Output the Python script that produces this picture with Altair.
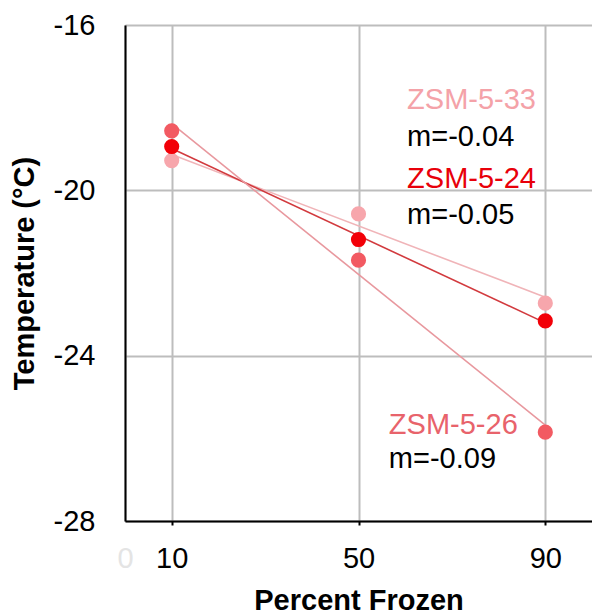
import altair as alt
import pandas as pd

# ---- data ----
series = ["ZSM-5-33", "ZSM-5-24", "ZSM-5-26"]
percent_frozen = [10, 50, 90]
temp_33 = [-19.28, -20.57, -22.73]
temp_24 = [-18.94, -21.19, -23.16]
temp_26 = [-18.56, -21.69, -25.85]

point_colors = ["#F7A6AC", "#F20008", "#F25A62"]
line_colors = ["#F0B4B8", "#D23A3E", "#E8989E"]

label_text = ["ZSM-5-33", "m=-0.04", "ZSM-5-24", "m=-0.05", "ZSM-5-26", "m=-0.09"]
label_x = [60.4, 60.4, 60.4, 60.4, 56.5, 56.5]
label_y = [-18.03, -18.93, -19.94, -20.81, -25.90, -26.72]
label_color = ["#F4A2A8", "#000000", "#E8000A", "#000000", "#E8636B", "#000000"]

x_ticks = [0, 10, 50, 90]
y_ticks = [-28, -24, -20, -16]

rows = []
for s, vals in zip(series, [temp_33, temp_24, temp_26]):
    for x, y in zip(percent_frozen, vals):
        rows.append({"series": s, "x": x, "y": y})
df = pd.DataFrame(rows)
labels = pd.DataFrame({"text": label_text, "x": label_x, "y": label_y, "c": label_color})

FONT = "Liberation Sans"

xs = alt.Scale(domain=[0, 100], nice=False, zero=False)
ys = alt.Scale(domain=[-28, -16], nice=False, zero=False)

x_axis = alt.Axis(
    values=x_ticks, title="Percent Frozen", labelFontSize=29, titleFontSize=29,
    titleFontWeight="bold", labelFont=FONT, titleFont=FONT, labelColor=alt.condition(
        "datum.value == 0", alt.value("#E4E4E4"), alt.value("#000000")),
    tickColor=alt.condition("datum.value == 0", alt.value("transparent"), alt.value("#000000")),
    tickSize=4, tickWidth=2, labelPadding=19, titlePadding=13, domainColor="black",
    domainWidth=2, gridColor="#BDBDBD", gridWidth=2, labelFlush=False, labelOverlap=False,
    titleColor="black",
)
y_axis = alt.Axis(
    values=y_ticks, title="Temperature (°C)", labelFontSize=29, titleFontSize=29,
    titleFontWeight="bold", labelFont=FONT, titleFont=FONT, labelColor="black",
    labelExpr="'-' + abs(datum.value)",
    ticks=False, labelPadding=30, titlePadding=14, domainColor="black", domainWidth=2,
    gridColor="#BDBDBD", gridWidth=2, labelFlush=False, labelOverlap=False, titleColor="black",
)

base = alt.Chart(df)

lines = base.transform_regression(
    "x", "y", groupby=["series"], extent=[10, 90]
).mark_line(strokeWidth=1.6).encode(
    x=alt.X("x:Q", scale=xs, axis=x_axis),
    y=alt.Y("y:Q", scale=ys, axis=y_axis),
    color=alt.Color("series:N", scale=alt.Scale(domain=series, range=line_colors), legend=None),
)

points = base.mark_circle(size=230, opacity=1).encode(
    x=alt.X("x:Q", scale=xs),
    y=alt.Y("y:Q", scale=ys),
    color=alt.Color("series:N", scale=alt.Scale(domain=series, range=point_colors), legend=None),
)

texts = alt.Chart(labels).mark_text(
    align="left", baseline="alphabetic", fontSize=29, font=FONT
).encode(
    x=alt.X("x:Q", scale=xs),
    y=alt.Y("y:Q", scale=ys),
    text="text:N",
    color=alt.Color("c:N", scale=None),
)

chart = alt.layer(lines, points, texts).resolve_scale(color="independent").properties(
    width=467, height=496,
    autosize=alt.AutoSizeParams(type="none"),
    padding={"left": 117, "top": 17, "right": 0, "bottom": 94},
).configure_view(stroke="black", strokeWidth=2).configure(background="white")

chart.save("out.html", embed_options={"renderer": "svg", "actions": False})
